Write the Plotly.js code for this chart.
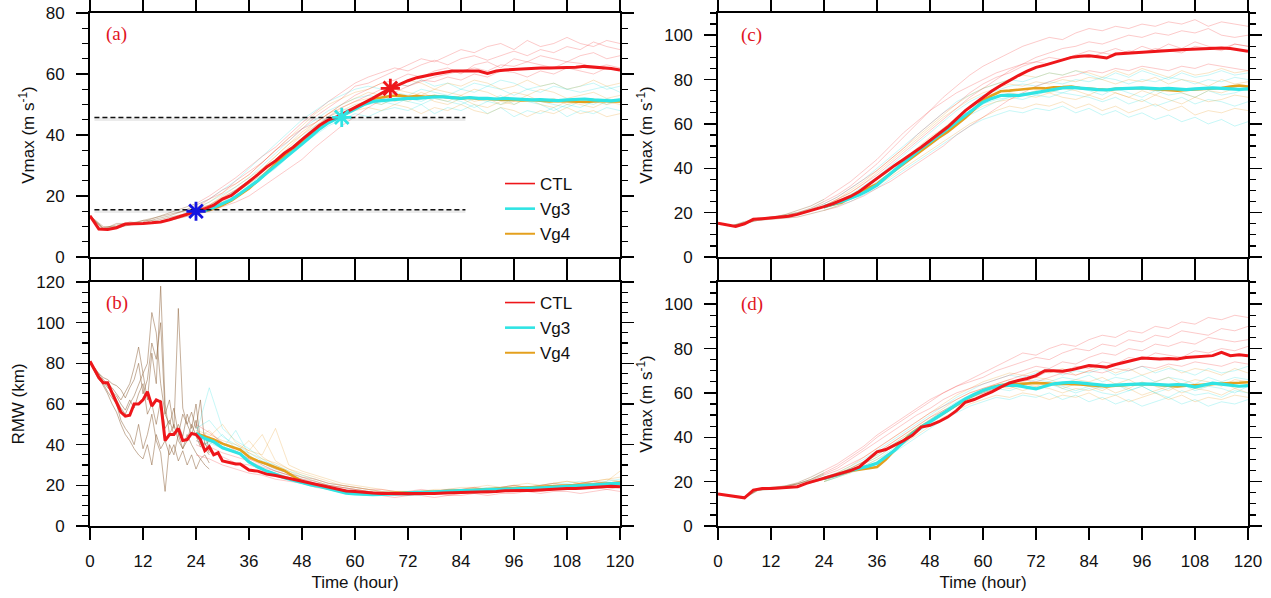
<!DOCTYPE html>
<html>
<head>
<meta charset="utf-8">
<script src="https://cdn.plot.ly/plotly-3.0.1.min.js"></script>
<style>html,body{margin:0;padding:0;background:#fff;}#chart{width:1271px;height:598px;}</style>
</head>
<body>
<div id="chart"></div>
<script>
// ---------------- time axes ----------------
const t2 = [0,2,4,6,8,10,12,14,16,18,20,22,24,26,28,30,32,34,36,38,40,42,44,46,48,50,52,54,56,58,60,62,64,66,68,70,72,74,76,78,80,82,84,86,88,90,92,94,96,98,100,102,104,106,108,110,112,114,116,118,120];
const tv = [24,26,28,30,32,34,36,38,40,42,44,46,48,50,52,54,56,58,60,62,64,66,68,70,72,74,76,78,80,82,84,86,88,90,92,94,96,98,100,102,104,106,108,110,112,114,116,118,120];
const t3 = [0,3,6,9,12,15,18,21,24,27,30,33,36,39,42,45,48,51,54,57,60,63,66,69,72,75,78,81,84,87,90,93,96,99,102,105,108,111,114,117,120];
const t3v = [24,27,30,33,36,39,42,45,48,51,54,57,60,63,66,69,72,75,78,81,84,87,90,93,96,99,102,105,108,111,114,117,120];
const tE = [0,1,2,3,4,5,6,7,8,9,10,11,12,13,14,15,16,17,18,19,20,21,22,23,24,25,26,27];
const tB = [0,1,2,3,4,5,6,7,8,9,10,11,12,13,14,15,16,17,18,19,20,21,22,23,24,25,26,27,28,29,30,31,32,33,34,35,36,38,40,42,44,46,48,50,52,54,56,58,60,62,64,66,68,70,72,74,76,78,80,82,84,86,88,90,92,94,96,98,100,102,104,106,108,110,112,114,116,118,120];

const xTicks = [0,12,24,36,48,60,72,84,96,108,120];
const seriesNames = ['CTL','Vg3','Vg4'];
const panelLabels = ['(a)','(b)','(c)','(d)'];

// ---------------- (a) Vmax ensemble means ----------------
const aCTL = [13.5,9.2,9.0,9.6,10.8,10.8,11.0,11.2,11.5,12.2,13.0,14.0,15.0,15.8,17.0,19.0,20.2,22.5,24.5,27.0,29.5,31.5,34.0,36.0,38.5,41.0,43.2,45.0,46.0,47.5,49.0,50.3,52.0,53.7,55.3,56.5,57.8,58.8,59.5,60.0,60.5,61.0,61.0,61.0,61.0,60.2,61.0,61.3,61.5,61.6,61.8,62.0,62.0,62.0,62.1,62.2,62.5,62.3,62.0,61.8,61.3];
const aVg3 = [15.0,15.2,16.2,17.5,18.8,20.8,22.8,25.0,27.5,29.8,32.2,34.5,37.0,39.5,42.0,44.0,45.5,46.8,48.5,50.0,51.0,51.3,51.5,51.8,52.0,52.0,52.3,52.5,52.5,52.2,52.0,52.3,52.0,52.0,51.8,52.0,51.8,51.6,51.5,51.6,51.5,51.3,51.5,51.6,51.8,51.5,51.3,51.2,51.5];
const aVg4 = [15.0,15.0,15.8,17.0,18.5,20.5,22.5,25.0,27.8,30.5,33.0,35.0,37.5,40.0,42.2,44.2,45.5,47.0,49.0,50.5,51.8,52.3,52.8,53.0,52.5,52.8,52.5,52.8,52.6,52.3,52.0,52.2,51.8,51.8,51.6,51.5,51.5,51.3,51.5,51.3,51.0,51.2,51.0,51.0,50.8,51.0,51.2,51.0,51.0];
// (a) members (CTL on t3, Vg on t3v)
const aM1 = [13.5,9.5,10.5,11,12,13,14.5,16,17.5,20,23,26,29.5,33,36,40,44,47.5,51,54,57,59,60.5,62,61,63,64.5,63,65,66,64.5,66,67.5,66,68,67,69,68,70.5,69,68];
const aM2 = [13.5,10,10,10.5,11,11.5,12,13,14,15,16.5,18,20,23,26,29,32,36,39.5,43,46,49,51.5,54,56,57.5,59,60,61,62,61,63,62.5,64,63,62,64,63.5,62,63,62];
const aM3 = [13.5,9,10,11.5,11,12.5,13.5,15,16,19,21,25,28,31,35,39,42,46,49,52,56,57,59,61,63,65,64,66,68,67,69,70,68,71,69,70,72,70,69,71,70];
const aM4 = [13.5,9.5,9.5,10.5,12,12,13,14,15.5,17,19.5,22,25,28,31.5,35,39,42.5,46,49,51,53,55,57,56,58,57.5,59,58,60,59,61,60.5,59,61,60,62,61,60,62,61];
const aM5 = [13.5,9,11,11,11.5,13,14,15,17,19,22,24,27,31,35,38,42,44,47,50,53,55,57,58,60,59,61,62,60,63,64,62,65,64,66,65,64,66,67,65,66];
const aV3m1 = [16,18,20.5,23,26,30,34,38,42,45,48,50,52,53,52,54,53,55,54,53,55,54,56,55,53,55,54,56,55,54,55,56,54];
const aV3m2 = [15,16,18,20,23,26,29,33,37,40,43,45,47,46,48,49,48,50,47,49,48,50,47,49,46,48,47,49,46,48,47,49,48];
const aV3m3 = [17,19,22,25,29,33,37,41,45,48,51,53,55,56,55,57,56,58,56,57,55,57,56,58,57,55,56,57,55,56,57,55,56];
const aV3m4 = [14,16,19,21,24,27,31,35,39,42,46,48,49,51,50,52,51,50,52,51,50,52,51,53,50,52,51,50,49,51,50,52,51];
const aV3m5 = [15,17,19,22,25,28,32,35,39,43,45,47,49,50,51,50,52,51,53,52,51,49,51,50,52,51,50,48,50,49,51,50,52];
const aV4m1 = [16,17,19.5,22,25,29,33,37,41,44,47,50,52,54,53,55,54,53,55,54,53,55,54,52,54,53,55,54,52,53,54,52,53];
const aV4m2 = [15,16.5,18,21,24,27,30,34,38,41,44,46,48,49,48,50,49,47,49,48,50,48,47,49,48,46,48,47,49,47,48,46,47];
const aV4m3 = [16,18,21,24,27,31,35,39,43,47,50,52,54,55,57,56,58,57,55,57,56,58,57,55,56,58,56,57,55,56,58,56,57];
const aV4m4 = [14,16,18.5,21,24,28,32,36,40,43,46,48,50,51,50,52,51,53,51,50,52,50,49,51,50,52,50,49,51,50,49,51,50];
const aV4m5 = [15,17,20,23,26,29,33,37,40,44,47,49,51,52,53,51,52,54,52,51,53,51,52,50,51,53,51,52,50,51,52,50,51];
// (a) markers and reference levels
const starT = [24, 57, 68];
const starV = [15.0, 45.8, 55.3];
const refLevels = [15.5, 45.7];
const refSpan = [1, 85];

// ---------------- (b) RMW ----------------
const bCTL = [81,77,73,70.5,70.5,65.5,61,56,54,54.5,60,60,62,66,59,62,61,42,45,45,48,42,42.5,45.5,45,42.5,37,39,35,36,32,31.5,31,30.5,30.5,29,27.5,27,25.5,24.8,24,23,22,21,20,19,18,17.2,17,16.5,16.2,16,16,16,15.8,15.8,16,16,16.2,16.3,16.5,16.5,16.8,17,17,17.3,17.5,17.5,17.5,17.8,18,18.3,18.5,18.5,18.8,19,19.3,19.5,19.3];
const bVg3 = [45.5,43,41.5,38.5,37,35.5,31.5,29,27,25.2,23.8,22.5,21.2,20.2,19.4,18.2,17,16.2,15.8,15.5,15.4,15.5,15.8,16,16.3,16.5,16.5,16.8,17,17.2,17.4,17.5,17.6,17.8,18,18,18.2,18.4,18.6,18.8,19,19.2,19.5,19.7,20,20.3,20.5,20.8,21];
const bVg4 = [45.5,44,42.5,40.5,39,37.5,34,32,30.5,29,27.2,24.5,22,20.8,19.8,18.5,17.3,16.5,16,15.8,15.8,16,16.2,16.3,16.5,16.6,16.8,17,17.1,17.3,17.5,17.6,17.8,18,18.1,18.2,18.4,18.6,18.8,19,19.2,19.5,19.7,20,20.2,20.5,20.8,21,21.2];
// (b) early members (tE) and later members (t3v)
const bE1 = [80,77,74,71,68,66,62,58,55,60,64,70,75,62,85,70,118,60,45,50,42,38,45,40,36,33,35,31];
const bE2 = [80,76,72,70,66,63,60,52,48,45,40,50,38,45,55,42,36,17,40,35,45,38,42,50,44,39,41,36];
const bE3 = [80,78,75,72,70,68,65,62,66,70,78,88,75,80,105,95,70,55,62,48,107,58,50,45,52,40,38,35];
const bE4 = [80,77,73,69,65,60,56,50,45,42,38,35,33,40,30,45,38,42,35,40,32,37,30,35,28,33,30,28];
const bE5 = [80,78,74,71,69,66,64,60,57,62,58,65,70,55,60,50,62,48,52,45,50,44,55,48,60,42,45,38];
const bE6 = [80,77,75,73,72,70,69,67,63,68,72,80,65,72,90,82,100,55,50,58,45,55,50,56,48,62,40,42];
const bC1 = [40,37,34,31,30,28,26,24,22,20,19,18,17,16,16,15,15,16,16,15,16,17,16,17,17,18,17,18,19,18,19,18,19];
const bC2 = [45,42,38,36,33,31,28,26,24,23,21,20,19,18,18,17,17,18,17,18,18,19,18,19,20,19,20,21,20,21,22,21,22];
const bC3 = [35,33,30,28,26,25,23,22,21,19,18,17,16,15,15,14,15,15,14,15,15,16,15,16,16,17,16,17,17,16,17,18,17];
const bC4 = [50,46,41,37,33,30,27,25,23,22,20,19,18,17,17,16,17,16,17,17,18,17,18,18,19,18,19,19,20,19,20,21,20];
const bC5 = [42,39,36,34,32,29,27,25,23,21,20,19,18,17,16,16,16,17,16,17,17,18,17,18,18,19,18,19,20,19,20,19,21];
const bV3m1 = [45,68,48,42,38,33,29,26,24,22,20,19,18,17,16,16,15,16,16,17,17,16,17,18,17,18,19,18,19,20,19,20,21];
const bV3m2 = [42,40,45,38,34,31,28,26,23,21,20,18,17,16,16,15,15,15,16,16,16,17,17,18,18,17,18,19,19,20,20,21,20];
const bV3m3 = [48,52,44,40,36,32,30,27,25,23,21,20,19,18,17,17,16,17,17,18,18,18,19,19,20,19,20,21,21,22,21,22,23];
const bV3m4 = [44,41,38,47,35,30,27,25,22,20,19,18,17,16,15,15,15,16,16,16,17,17,18,17,18,18,19,19,18,19,20,19,20];
const bV4m1 = [46,44,50,41,37,45,32,28,25,23,21,20,19,18,17,17,16,17,17,18,18,19,18,19,20,19,20,21,22,21,22,23,24];
const bV4m2 = [43,47,40,38,36,33,31,28,26,24,22,20,19,18,17,16,16,16,17,17,17,18,18,19,19,18,19,20,20,21,21,22,27];
const bV4m3 = [45,42,39,36,42,34,30,27,24,22,20,19,18,17,16,16,16,16,16,17,17,17,18,18,18,19,19,20,20,21,22,21,22];
const bV4m4 = [47,45,42,40,37,35,48,30,27,25,23,21,20,19,18,17,17,17,18,18,19,19,20,19,20,21,20,21,22,21,22,23,22];

// ---------------- (c) Vmax ----------------
const cCTL = [15.2,14.5,13.8,15.0,17.0,17.3,17.6,18.0,18.4,19.2,20.3,21.5,22.7,24.0,25.5,27.3,29.5,32.5,35.4,38.5,41.3,44.0,46.6,49.5,52.5,55.5,58.6,62.3,66.0,69.0,72.0,74.8,77.3,79.6,81.8,83.8,85.5,86.5,87.7,89.0,90.0,90.5,90.7,90.3,89.7,91.5,91.8,92.0,92.2,92.5,93.0,93.0,93.3,93.5,93.7,93.8,94.0,94.2,94.0,93.5,92.7];
const cVg3 = [22.7,23.8,25.0,26.5,28.0,30.0,32.4,35.8,39.2,42.5,45.9,49.0,51.9,54.8,57.8,60.8,63.8,66.8,69.8,71.5,72.8,73.0,72.8,73.5,74.3,75.0,75.8,76.2,76.5,76.0,75.8,75.5,75.3,75.8,76.0,76.2,76.2,76.0,75.8,76.0,75.8,75.5,75.8,76.0,76.2,76.0,75.8,75.6,75.8];
const cVg4 = [22.7,23.5,24.5,27.0,29.4,31.0,33.0,36.0,39.0,42.0,45.0,48.0,51.0,53.8,56.4,59.5,62.8,66.5,70.6,72.8,74.7,75.0,75.3,75.8,76.2,76.0,76.5,76.6,76.8,76.2,76.0,75.5,75.3,75.8,76.0,76.3,76.2,75.8,75.5,75.3,75.0,75.3,75.5,75.5,75.8,76.2,76.8,77.3,76.8];
const cM1 = [15.2,14,15.5,17.5,18,19,20,22,25,28,32,37,42,48,54,60,66,72,77,82,86,89,92,95,97,99,98,101,103,102,104,103,105,104,106,105,107,104,106,105,104];
const cM2 = [15.2,14,15,16.5,17,17.5,18,19.5,21,22.5,25,27.5,31,34,38,42,46,50,55,59,63,67,71,74,77,79,81,82,84,83,85,84,86,85,84,86,85,87,86,85,84];
const cM3 = [15.2,14,16,17,17.5,18.5,19.5,21,23,26,29,33,37,42,47,52,57,62,67,72,76,80,84,87,90,92,94,95,97,96,98,100,99,101,100,102,101,103,100,99,100];
const cM4 = [15.2,14,15,17,18,18.5,20,21.5,24,27,31,35,39,44,49,55,60,65,69,74,78,81,83,86,88,87,89,91,90,92,91,93,92,94,93,92,95,94,93,96,95];
const cM5 = [15.2,14,15.5,16.5,17.5,19,21,23,26,30,34,39,44,50,56,61,66,70,74,77,80,83,85,87,88,90,89,91,93,92,94,92,95,93,96,94,97,95,94,96,95];
const cV3m1 = [22,25,28,32,36,41,46,51,56,61,66,70,73,75,77,78,77,79,78,80,79,81,80,78,80,79,81,80,78,80,79,81,80];
const cV3m2 = [21,23,25,28,31,35,39,43,47,51,55,59,62,64,66,65,67,66,68,65,67,64,66,63,65,62,64,61,63,60,62,59,61];
const cV3m3 = [24,27,31,35,40,45,50,55,60,65,70,73,76,78,80,79,81,83,82,84,82,80,83,81,84,82,80,83,81,82,84,82,83];
const cV3m4 = [22,24,27,30,34,38,43,48,53,58,62,66,69,71,72,74,73,75,74,76,75,73,76,74,72,75,73,74,72,75,73,74,76];
const cV3m5 = [23,25,28,31,35,39,43,47,51,56,60,64,67,70,72,71,73,72,74,73,72,70,72,69,71,68,70,72,69,71,70,68,70];
const cV4m1 = [23,26,29,33,38,43,48,53,58,63,67,71,74,76,78,77,79,78,80,79,81,80,78,80,79,81,78,80,79,77,80,78,79];
const cV4m2 = [21,23,26,29,32,36,40,44,48,52,56,60,63,66,68,67,69,68,70,67,69,66,68,65,67,69,66,68,64,66,65,67,66];
const cV4m3 = [23,26,30,34,39,44,49,54,59,64,69,73,76,78,80,82,81,83,82,84,83,81,84,82,85,83,81,84,82,83,85,83,84];
const cV4m4 = [22,24,27,31,35,39,44,49,54,58,63,67,70,72,74,73,75,74,76,75,73,76,74,72,75,73,76,74,72,75,74,76,75];
const cV4m5 = [22,25,28,31,35,40,44,48,53,57,61,65,68,70,71,73,72,74,72,71,73,71,74,72,70,73,71,69,72,70,71,73,72];

// ---------------- (d) Vmax ----------------
const dCTL = [14.4,13.9,13.2,12.7,16.2,16.9,16.9,17.1,17.4,17.7,19.2,20.3,21.4,22.5,23.7,25.0,26.6,30.0,33.4,34.5,36.4,38.5,40.9,44.6,45.4,47.0,49.1,52.0,55.8,57.0,58.8,60.5,62.6,64.5,65.6,66.5,67.8,70.0,70.0,69.8,70.4,71.5,72.3,72.0,71.6,72.8,73.8,74.5,75.7,75.5,75.3,75.5,75.3,76.0,76.3,76.5,76.8,78.3,76.8,77.2,76.8];
const dVg3 = [21.4,22.5,23.7,25.1,26.0,27.0,28.3,31.0,34.1,37.8,41.6,44.5,46.9,49.5,52.1,54.8,57.3,59.3,61.1,62.3,63.3,63.5,63.3,62.5,61.8,63.0,64.1,64.5,64.8,64.5,64.0,63.5,63.3,63.5,63.8,64.0,64.1,64.0,63.8,63.5,63.8,63.5,62.6,63.5,64.4,64.0,63.5,63.0,63.3];
const dVg4 = [21.4,22.3,23.5,24.8,25.5,26.0,26.6,30.0,34.5,38.5,42.0,44.8,47.0,49.5,52.0,54.5,57.0,59.0,61.0,62.5,63.5,63.8,64.1,64.3,64.5,64.3,64.0,64.2,64.1,63.8,63.5,63.2,62.9,63.2,63.5,63.8,64.0,63.8,63.5,63.2,62.9,63.2,63.5,63.8,64.0,64.2,64.5,64.6,64.8];
const dM1 = [14.4,13.5,13,16.5,17,17.5,19,21,24,27,31,35,40,44,48,52,56,60,63,66,69,72,75,78,77,80,82,81,84,86,85,88,87,90,89,92,91,94,93,95,94];
const dM2 = [14.4,13.5,12.5,16,16.5,17,18,19.5,21,23,26,29,33,37,41,45,49,52,55,58,60,62,64,66,65,67,69,68,70,69,71,70,72,71,73,72,74,73,72,74,73];
const dM3 = [14.4,13.5,13,16.5,17.5,18,19.5,22,25,28,32,36,41,45,49,53,57,60,63,65,67,70,72,74,76,75,78,80,79,82,81,84,83,86,85,88,87,86,89,88,90];
const dM4 = [14.4,13.5,13,16,17,18,19,20.5,23,25,28,31,35,39,43,47,51,54,57,60,62,64,66,68,67,70,69,72,71,74,73,76,75,78,77,76,79,78,80,79,81];
const dM5 = [14.4,13.5,12.5,16.5,17,17.5,19,21,23.5,26,30,34,38,42,46,50,53,57,60,62,64,66,68,70,72,71,74,73,76,78,77,80,79,82,81,83,82,85,84,83,84];
const dV3m1 = [21,23,25,28,31,35,39,43,47,51,55,58,61,63,65,64,66,65,67,66,68,65,67,66,68,65,67,66,64,67,65,67,66];
const dV3m2 = [20,22,24,26,29,32,36,40,44,48,51,54,56,58,57,59,58,60,57,59,56,58,55,57,54,56,58,55,57,54,56,55,57];
const dV3m3 = [22,24,27,30,34,38,42,46,50,54,58,61,64,66,68,67,69,71,68,70,69,71,68,70,72,69,71,70,68,71,69,70,72];
const dV3m4 = [20,22,25,27,30,34,38,42,46,50,54,57,60,62,61,63,62,64,63,61,63,62,64,61,63,60,62,64,61,63,62,60,63];
const dV3m5 = [21,23,26,29,32,36,40,44,48,52,56,59,62,63,65,63,62,64,62,60,62,60,59,61,63,60,58,61,59,60,58,61,60];
const dV4m1 = [21,24,26,29,33,37,41,45,49,53,57,60,62,64,66,65,67,66,64,66,65,67,64,66,63,65,67,64,66,65,63,66,65];
const dV4m2 = [20,22,24,27,30,33,37,41,45,49,52,55,57,59,58,60,59,57,59,58,60,57,59,56,58,60,57,59,56,58,57,59,58];
const dV4m3 = [22,24,27,31,35,39,43,47,51,55,59,62,65,67,69,68,70,69,71,68,70,72,69,71,68,70,72,69,71,70,68,71,69];
const dV4m4 = [20,23,25,28,31,35,39,43,47,51,55,58,61,63,62,64,63,65,62,64,63,61,64,62,65,63,61,64,62,63,65,62,64];
const dV4m5 = [21,23,26,29,32,36,40,44,48,52,55,58,60,62,63,61,63,62,60,62,61,63,60,62,59,61,63,60,62,61,59,62,60];

// ---------------- styling ----------------
const FONT = '"Liberation Sans", Arial, Helvetica, sans-serif';
const SERIF = '"Liberation Serif", "Times New Roman", serif';
const C_RED = 'rgb(238,22,26)';
const C_CYAN = 'rgb(48,228,228)';
const C_ORANGE = 'rgb(228,160,30)';
const C_BLUE = 'rgb(20,20,225)';
const M_RED = 'rgba(245,50,50,0.26)';
const M_CYAN = 'rgba(40,225,225,0.26)';
const M_ORANGE = 'rgba(235,160,50,0.28)';
const M_BROWN = 'rgba(150,105,60,0.38)';
const M_BROWN_B = 'rgba(140,95,55,0.5)';

const traces = [];
function ln(x, y, color, width, xa, ya, extra) {
  const t = {type:'scatter', mode:'lines', x:x, y:y, xaxis:xa, yaxis:ya,
    line:{color:color, width:width}, showlegend:false, hoverinfo:'skip'};
  return Object.assign(t, extra || {});
}
function addMembers(ctlMembers, v3Members, v4Members, xa, ya) {
  ctlMembers.forEach(m => traces.push(ln(t3.slice(0, 9), m.slice(0, 9), M_BROWN, 1, xa, ya)));
  v3Members.forEach(m => traces.push(ln(t3v, m, M_CYAN, 1, xa, ya)));
  v4Members.forEach(m => traces.push(ln(t3v, m, M_ORANGE, 1, xa, ya)));
  ctlMembers.forEach(m => traces.push(ln(t3.slice(8), m.slice(8), M_RED, 1, xa, ya)));
}
function addMeans(tCtl, ctl, v3, v4, xa, ya) {
  traces.push(ln(tv, v4, C_ORANGE, 2.6, xa, ya));
  traces.push(ln(tv, v3, C_CYAN, 3.2, xa, ya));
  traces.push(ln(tCtl, ctl, C_RED, 3, xa, ya));
}

// (a)
addMembers([aM1,aM2,aM3,aM4,aM5],[aV3m1,aV3m2,aV3m3,aV3m4,aV3m5],[aV4m1,aV4m2,aV4m3,aV4m4,aV4m5],'x','y');
addMeans(t2, aCTL, aVg3, aVg4, 'x', 'y');
refLevels.forEach(lv => {
  traces.push(ln(refSpan, [lv - 0.5, lv - 0.5], 'rgba(0,0,0,0.08)', 3.5, 'x', 'y'));
  traces.push(ln(refSpan, [lv, lv], '#111', 1.5, 'x', 'y', {line:{color:'#111', width:1.5, dash:'5px,3px'}}));
});
const starColors = [C_BLUE, C_CYAN, C_RED];
traces.push({type:'scatter', mode:'markers', x:starT, y:starV, xaxis:'x', yaxis:'y', showlegend:false, hoverinfo:'skip',
  marker:{symbol:'asterisk-open', size:16, color:starColors, line:{width:2.8, color:starColors}}});

// (b)
[bE1,bE2,bE3,bE4,bE5,bE6].forEach(m => traces.push(ln(tE, m, M_BROWN_B, 1, 'x2', 'y2')));
[bV3m1,bV3m2,bV3m3,bV3m4].forEach(m => traces.push(ln(t3v, m, M_CYAN, 1, 'x2', 'y2')));
[bV4m1,bV4m2,bV4m3,bV4m4].forEach(m => traces.push(ln(t3v, m, M_ORANGE, 1, 'x2', 'y2')));
[bC1,bC2,bC3,bC4,bC5].forEach(m => traces.push(ln(t3v, m, M_RED, 1, 'x2', 'y2')));
addMeans(tB, bCTL, bVg3, bVg4, 'x2', 'y2');

// (c)
addMembers([cM1,cM2,cM3,cM4,cM5],[cV3m1,cV3m2,cV3m3,cV3m4,cV3m5],[cV4m1,cV4m2,cV4m3,cV4m4,cV4m5],'x3','y3');
addMeans(t2, cCTL, cVg3, cVg4, 'x3', 'y3');

// (d)
addMembers([dM1,dM2,dM3,dM4,dM5],[dV3m1,dV3m2,dV3m3,dV3m4,dV3m5],[dV4m1,dV4m2,dV4m3,dV4m4,dV4m5],'x4','y4');
addMeans(t2, dCTL, dVg3, dVg4, 'x4', 'y4');

// legend entries (legend for (a), legend2 for (b))
const legColors = [C_RED, C_CYAN, C_ORANGE];
const legWidths = [1.6, 2.6, 2];
['legend','legend2'].forEach((lg, k) => {
  seriesNames.forEach((nm, i) => {
    traces.push({type:'scatter', mode:'lines', x:[null], y:[null], name:nm,
      xaxis: k === 0 ? 'x' : 'x2', yaxis: k === 0 ? 'y' : 'y2',
      line:{color:legColors[i], width:legWidths[i]}, showlegend:true, legend:lg, legendrank:i+1});
  });
});

// ---------------- layout ----------------
const W = 1271, H = 598;
const colA = [90/W, 620/W], colC = [718/W, 1248/W];
const rowTop = [1-257/H, 1-13/H], rowBot = [1-526/H, 1-282/H];

function xax(domain, anchor, labels, title) {
  const a = {domain:domain, anchor:anchor, range:[0,120], tickmode:'array', tickvals:xTicks, ticktext:xTicks.map(String),
    ticks:'outside', ticklen:12, tickwidth:1.5, tickcolor:'#000',
    showline:true, linewidth:2, linecolor:'#000', mirror:'allticks',
    showgrid:false, zeroline:false, showticklabels:labels, fixedrange:true,
    tickfont:{family:FONT, size:17, color:'#111'}, ticklabelstandoff:7};
  if (title) a.title = {text:title, font:{family:FONT, size:17, color:'#111'}, standoff:6};
  return a;
}
function yax(domain, anchor, top, title) {
  return {domain:domain, anchor:anchor, range:[0,top], tick0:0, dtick:20,
    ticks:'outside', ticklen:12, tickwidth:1.5, tickcolor:'#000',
    minor:{dtick:5, tick0:0, ticks:'outside', ticklen:6, tickwidth:1.2, tickcolor:'#000', showgrid:false},
    showline:true, linewidth:2, linecolor:'#000', mirror:'allticks',
    showgrid:false, zeroline:false, fixedrange:true,
    tickfont:{family:FONT, size:17, color:'#111'}, ticklabelstandoff:8,
    title:{text:title, font:{family:FONT, size:17, color:'#111'}, standoff:7}};
}
const vTitle = 'Vmax (m s<sup>-1</sup>)';
const labelPos = [[104/W, 1-34/H], [104/W, 1-303/H], [739/W, 1-35/H], [739/W, 1-304/H]];

const layout = {
  width:W, height:H, margin:{l:0, r:0, t:0, b:0}, paper_bgcolor:'#fff', plot_bgcolor:'#fff',
  xaxis: xax(colA, 'y', false),
  yaxis: yax(rowTop, 'x', 80, vTitle),
  xaxis2: xax(colA, 'y2', true, 'Time (hour)'),
  yaxis2: yax(rowBot, 'x2', 120, 'RMW (km)'),
  xaxis3: xax(colC, 'y3', false),
  yaxis3: yax(rowTop, 'x3', 110, vTitle),
  xaxis4: xax(colC, 'y4', true, 'Time (hour)'),
  yaxis4: yax(rowBot, 'x4', 110, vTitle),
  legend: {x:500/W, y:1-166/H, xanchor:'left', yanchor:'top', bgcolor:'rgba(0,0,0,0)', borderwidth:0,
    font:{family:FONT, size:17, color:'#111'}, tracegroupgap:0, itemclick:false, itemdoubleclick:false},
  legend2: {x:500/W, y:1-285/H, xanchor:'left', yanchor:'top', bgcolor:'rgba(0,0,0,0)', borderwidth:0,
    font:{family:FONT, size:17, color:'#111'}, tracegroupgap:0, itemclick:false, itemdoubleclick:false},
  annotations: panelLabels.map((txt, i) => ({text:txt, xref:'paper', yref:'paper', x:labelPos[i][0], y:labelPos[i][1],
    xanchor:'left', yanchor:'middle', showarrow:false, font:{family:SERIF, size:19, color:'rgb(225,20,30)'}})),
  showlegend:true
};

Plotly.newPlot('chart', traces, layout, {displayModeBar:false, staticPlot:true});
</script>
</body>
</html>
